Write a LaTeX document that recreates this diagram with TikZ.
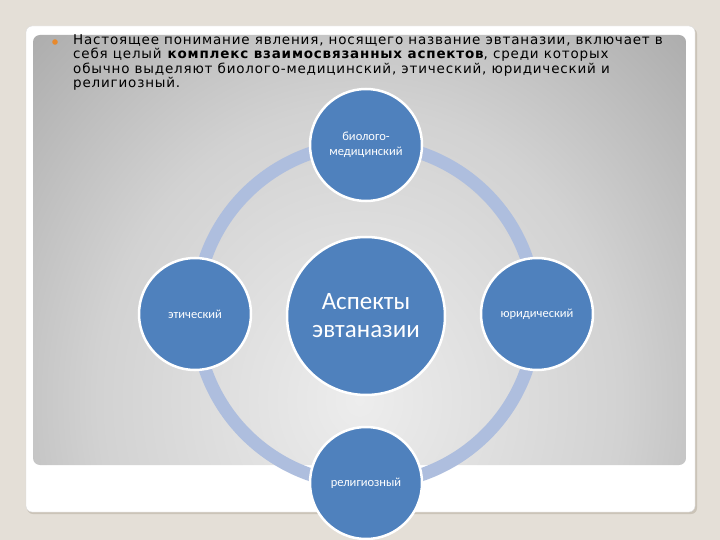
\documentclass[tikz,border=0pt]{standalone}
\usepackage{fontspec}
\setmainfont{DejaVu Sans}
\newfontfamily\calibri{Carlito}

\definecolor{slidebg}{HTML}{E4DFD7}
\definecolor{panelshadow}{HTML}{CBC4B8}
\definecolor{glowin}{HTML}{EDEDED}
\definecolor{glowmid}{HTML}{D2D2D2}
\definecolor{glowout}{HTML}{A2A2A2}
\definecolor{aspectblue}{HTML}{4F81BD}
\definecolor{ringblue}{HTML}{AEBEDE}
\definecolor{bulletorange}{HTML}{E8892C}

\pgfdeclareradialshading{panelglow}{\pgfpoint{0bp}{0bp}}{color(0bp)=(glowin); color(20bp)=(glowmid); color(40bp)=(glowout); color(72bp)=(glowout)}

\begin{document}
\begin{tikzpicture}[x=1pt, y=-1pt, every node/.style={inner sep=0pt}]

\tikzstyle{aspect}=[circle, draw=white, line width=2.5pt, fill=aspectblue, minimum size=112pt, text=white, align=center, font=\calibri\fontsize{12.5}{15}\selectfont]
\tikzstyle{hub}=[aspect, minimum size=158pt, font=\calibri\fontsize{25}{28}\selectfont]
\tikzstyle{ring}=[draw=ringblue, line width=13pt]

\useasboundingbox (0,0) rectangle (720,540);
\fill[slidebg] (0,0) rectangle (720,540);

% slide panel
\fill[panelshadow, rounded corners=6pt] (27,28) rectangle (697,514);
\filldraw[fill=white, draw=gray!30, rounded corners=6pt] (26,26) rectangle (695,512);
\begin{scope}
  \clip[rounded corners=7pt] (33,35) rectangle (686,465);
  \shade[shading=panelglow] (33,35) rectangle (686,765);
\end{scope}

% text
\fill[bulletorange] (55,42) circle[radius=2.8];
\node[anchor=north west, align=left, font=\fontsize{13.5}{14.5}\selectfont\addfontfeature{LetterSpace=6}] (intro) at (73,34)
  {Настоящее понимание явления, носящего название эвтаназии, включает в\\
   себя целый \textbf{комплекс взаимосвязанных аспектов}, среди которых\\
   обычно выделяют биолого-медицинский, этический, юридический и\\
   религиозный.};

% ring
\coordinate (ringc) at (366,314);
\draw[ring] (ringc) circle[radius=170];

\node[hub] (hub) at (366,316) {Аспекты\\эвтаназии};
\node[aspect] (bio) at (366,145) {биолого-\\медицинский};
\node[aspect] (eth) at (195,314) {этический};
\node[aspect] (law) at (537,314) {юридический};
\node[aspect] (rel) at (366,483) {религиозный};

\end{tikzpicture}
\end{document}
